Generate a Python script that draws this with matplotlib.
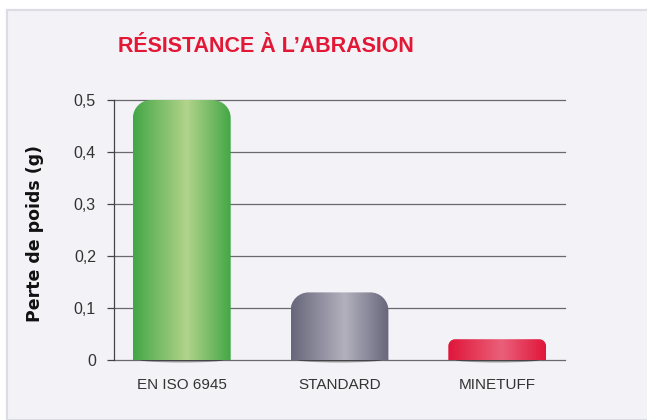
import numpy as np
import matplotlib
matplotlib.use("Agg")
import matplotlib.pyplot as plt
from matplotlib.path import Path
from matplotlib.patches import PathPatch, Rectangle, Ellipse
from matplotlib.colors import LinearSegmentedColormap

# --- data ---
categories = ["EN ISO 6945", "STANDARD", "MINETUFF"]
values = [0.50, 0.13, 0.04]
y_ticks = [0, 0.1, 0.2, 0.3, 0.4, 0.5]
y_tick_labels = ["0", "0,1", "0,2", "0,3", "0,4", "0,5"]
title = "RÉSISTANCE À L’ABRASION"
y_label = "Perte de poids (g)"

# edge / centre colours of each bar gradient
bar_colors = [("#43a746", "#b2d38b"), ("#67667a", "#b3b1be"), ("#e0163a", "#ea6079")]

SANS = ["Liberation Sans", "DejaVu Sans"]
plt.rcParams["font.family"] = SANS

W, H, DPI = 647, 420, 100
fig = plt.figure(figsize=(W / DPI, H / DPI), dpi=DPI)
fig.patch.set_facecolor("white")

# grey panel behind everything
panel = Rectangle((7 / W, 0), 1 - 7 / W + 0.01, 1 - 10 / H, transform=fig.transFigure,
                  facecolor="#f3f3f7", edgecolor="#dcdce5", lw=1.6, zorder=-10)
fig.patches.append(panel)

ax_l, ax_r, ax_t, ax_b = 114, 565, 100, 360
ax = fig.add_axes([ax_l / W, 1 - ax_b / H, (ax_r - ax_l) / W, (ax_b - ax_t) / H])
ax.set_facecolor("none")

x = np.arange(len(categories))
ax.set_xlim(-0.43, 2.43)
ax.set_ylim(0, 0.5)

# pixels per data unit, used to keep corners round
px_x = (ax_r - ax_l) / (2.43 + 0.43)
px_y = (ax_b - ax_t) / 0.5

for yv in y_ticks[1:]:
    ax.axhline(yv, color="#6a6a6e", lw=0.9, zorder=1, clip_on=False)

bar_w = 0.62


def top_rounded(x0, x1, h, r_px):
    r_px = min(r_px, h * px_y * 0.33)
    rx, ry = r_px / px_x, r_px / px_y
    k = 0.5523
    verts = [(x0, 0), (x0, h - ry),
             (x0, h - ry + k * ry), (x0 + rx - k * rx, h), (x0 + rx, h),
             (x1 - rx, h),
             (x1 - rx + k * rx, h), (x1, h - ry + k * ry), (x1, h - ry),
             (x1, 0), (x0, 0)]
    codes = [Path.MOVETO, Path.LINETO,
             Path.CURVE4, Path.CURVE4, Path.CURVE4,
             Path.LINETO,
             Path.CURVE4, Path.CURVE4, Path.CURVE4,
             Path.LINETO, Path.CLOSEPOLY]
    return Path(verts, codes)


for xi, v, (c_edge, c_mid) in zip(x, values, bar_colors):
    x0, x1 = xi - bar_w / 2, xi + bar_w / 2
    # soft shadow at the foot of the bar
    sh = Ellipse((xi, 0), bar_w * 0.85, 5 / px_y, facecolor="#000000", alpha=0.35,
                 lw=0, zorder=2, clip_on=False)
    ax.add_patch(sh)
    patch = PathPatch(top_rounded(x0, x1, v, 18), facecolor="none", lw=0, zorder=3)
    ax.add_patch(patch)
    cmap = LinearSegmentedColormap.from_list("g", [(0, c_edge), (0.55, c_mid), (1, c_edge)])
    grad = np.linspace(0, 1, 256).reshape(1, -1)
    im = ax.imshow(grad, cmap=cmap, extent=[x0, x1, 0, v], aspect="auto",
                   zorder=3, interpolation="bicubic")
    im.set_clip_path(patch)

ax.set_xlim(-0.43, 2.43)
ax.set_ylim(0, 0.5)

for s in ["top", "right"]:
    ax.spines[s].set_visible(False)
ax.spines["left"].set_color("#444448")
ax.spines["bottom"].set_color("#6a6a6e")
ax.spines["left"].set_linewidth(0.9)
ax.spines["bottom"].set_linewidth(0.9)
ax.spines["bottom"].set_zorder(1)

ax.set_yticks(y_ticks)
ax.set_yticklabels(y_tick_labels, fontsize=11.5, color="#333333")
ax.tick_params(axis="y", length=5, width=0.9, color="#444448", pad=8)
ax.set_xticks(x)
ax.set_xticklabels(categories, fontsize=11, color="#333333")
ax.tick_params(axis="x", length=0, pad=13)

fig.text(35 / W, 1 - 234 / H, y_label, rotation=90, ha="center", va="center",
         family=["DejaVu Sans"], fontsize=12.5, fontweight="bold", color="#111111")
fig.text(266 / W, 1 - 46 / H, title, ha="center", va="center",
         fontsize=15.5, fontweight="bold", color="#e31837")

fig.savefig("out.png", dpi=DPI)
